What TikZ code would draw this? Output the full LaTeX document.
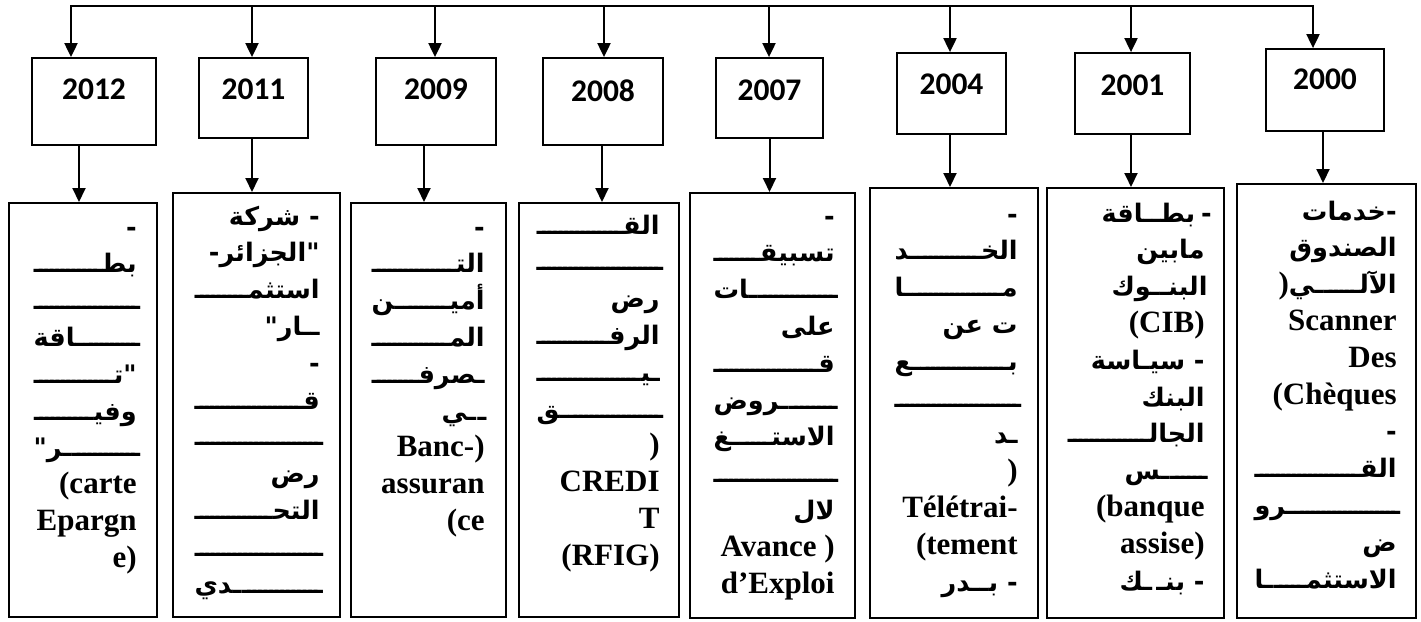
\documentclass[tikz,border=0pt]{standalone}
\usepackage{fontspec}
\setmainfont{Liberation Serif}
\newfontfamily\arfont[Script=Arabic]{DejaVu Sans}
\newfontfamily\yrfont{Carlito}
\usetikzlibrary{arrows.meta,positioning}
\TeXXeTstate=1

% arabic pieces, kashida bar, right flushed rows
\newcommand\arf{\arfont\bfseries\fontsize{25.5pt}{36.8pt}\selectfont}
\newcommand\A[1]{{\arf\beginR #1\endR}}
\newcommand\K{{\arf\setbox0\hbox{ـ}\dimen0=.6\wd0 \xleaders\hbox to\dimen0{ـ\hss}\hfill}}
\newcommand\rowr[1]{\hbox to\hsize{\hss#1}}
\newcommand\roww[2]{\hbox to\hsize{\hss\hbox to#1pt{#2}}}
\newcommand\col[2]{\vtop{\hsize=#1pt\baselineskip=36.8pt\lineskiplimit=-\maxdimen\lineskip=0pt #2}}

\tikzset{
  yrbox/.style={draw,rectangle,line width=1.8pt,inner sep=0pt},
  colbox/.style={draw,rectangle,line width=1.8pt,inner sep=0pt,anchor=north west},
  yrlbl/.style={inner sep=0pt,font=\yrfont\bfseries\fontsize{31.5pt}{31.5pt}\selectfont},
  coltxt/.style={inner sep=0pt,anchor=base east,font=\bfseries\fontsize{31pt}{36.8pt}\selectfont},
  arr/.style={-{Triangle[length=14pt,width=13pt]},line width=2pt},
  busarr/.style={{Triangle[length=14pt,width=13pt]}-{Triangle[length=14pt,width=13pt]},line width=2pt}
}

\begin{document}
\begin{tikzpicture}[x=1pt,y=-1pt]
  \useasboundingbox (0,0) rectangle (1421,621);

  % year boxes
  \node[yrbox,minimum width=124.5pt,minimum height=87pt] (y2012) at (94,101.5) {};
  \node[yrbox,minimum width=109pt,minimum height=80pt] (y2011) at (253.5,98) {};
  \node[yrbox,minimum width=120pt,minimum height=87pt] (y2009) at (436,101.5) {};
  \node[yrbox,minimum width=120pt,minimum height=87pt] (y2008) at (603,101.5) {};
  \node[yrbox,minimum width=107pt,minimum height=80pt] (y2007) at (769.5,98) {};
  \node[yrbox,minimum width=109pt,minimum height=81pt] (y2004) at (951.5,93.5) {};
  \node[yrbox,minimum width=115pt,minimum height=81pt] (y2001) at (1132.5,93.5) {};
  \node[yrbox,minimum width=118pt,minimum height=82pt] (y2000) at (1325,90) {};

  \node[yrlbl,below=22pt of y2012.north] (t2012) {2012};
  \node[yrlbl,below=22pt of y2011.north] (t2011) {2011};
  \node[yrlbl,below=22pt of y2009.north] (t2009) {2009};
  \node[yrlbl,below=22pt of y2008.north] (t2008) {2008};
  \node[yrlbl,below=23pt of y2007.north] (t2007) {2007};
  \node[yrlbl,below=22pt of y2004.north] (t2004) {2004};
  \node[yrlbl,below=23pt of y2001.north] (t2001) {2001};
  \node[yrlbl,below=21pt of y2000.north] (t2000) {2000};

  % lower boxes
  \node[colbox,minimum width=148pt,minimum height=414pt] (b2012) at (8,202) {};
  \node[colbox,minimum width=167pt,minimum height=424pt] (b2011) at (172,192) {};
  \node[colbox,minimum width=155pt,minimum height=414pt] (b2009) at (350,202) {};
  \node[colbox,minimum width=160pt,minimum height=414pt] (b2008) at (518,202) {};
  \node[colbox,minimum width=165pt,minimum height=425pt] (b2007) at (689,192) {};
  \node[colbox,minimum width=168pt,minimum height=430pt] (b2004) at (869,187) {};
  \node[colbox,minimum width=177pt,minimum height=430pt] (b2001) at (1046,187) {};
  \node[colbox,minimum width=179pt,minimum height=434pt] (b2000) at (1236,183) {};

  \node[coltxt] (c2012) at ([xshift=-21pt,yshift=-34pt]b2012.north east) {\col{103}{
    \rowr{\A{-}}
    \rowr{\K\A{بطـ}}
    \rowr{\K}
    \rowr{\A{ـاقة}\K}
    \rowr{\K\A{"تـ}}
    \rowr{\K\A{وفيـ}}
    \rowr{\A{ـر"}\K}
    \rowr{(carte}
    \rowr{Epargn}
    \rowr{e)}}};

  \node[coltxt] (c2011) at ([xshift=-21pt,yshift=-33pt]b2011.north east) {\col{125}{
    \rowr{\A{- شركة}}
    \rowr{\A{"الجزائر-}}
    \rowr{\K\A{استثمـ}}
    \rowr{\A{ــار"}}
    \rowr{\A{-}}
    \rowr{\K\A{قـ}}
    \rowr{\K}
    \rowr{\A{رض}}
    \rowr{\K\A{التحـ}}
    \rowr{\K}
    \rowr{\A{ـدي}\K}}};

  \node[coltxt] (c2009) at ([xshift=-22pt,yshift=-34pt]b2009.north east) {\col{113}{
    \rowr{\A{-}}
    \rowr{\K\A{التـ}}
    \rowr{\A{ـن}\K\A{أميـ}}
    \rowr{\K\A{المـ}}
    \rowr{\K\A{ـصرفـ}}
    \roww{43}{\A{ـي}\K}
    \rowr{Banc-)}
    \rowr{assuran}
    \rowr{(ce}}};

  \node[coltxt] (c2008) at ([xshift=-20pt,yshift=-32pt]b2008.north east) {\col{123}{
    \rowr{\K\A{القـ}}
    \rowr{\K}
    \rowr{\A{رض}}
    \rowr{\K\A{الرفـ}}
    \rowr{\K\A{ـيـ}}
    \rowr{\A{ـق}\K}
    \rowr{)}
    \rowr{CREDI}
    \rowr{T}
    \rowr{(RFIG)}}};

  \node[coltxt] (c2007) at ([xshift=-21pt,yshift=-33pt]b2007.north east) {\col{121}{
    \rowr{\A{-}}
    \rowr{\K\A{تسبيقـ}}
    \rowr{\A{ـات}\K}
    \rowr{\A{على}}
    \rowr{\K\A{قـ}}
    \rowr{\A{ـروض}\K}
    \rowr{\A{ـغ}\K\A{الاستـ}}
    \rowr{\K}
    \rowr{\A{لال}}
    \rowr{Avance )}
    \rowr{d’Exploi}}};

  \node[coltxt] (c2004) at ([xshift=-21pt,yshift=-36pt]b2004.north east) {\col{123}{
    \rowr{\A{-}}
    \rowr{\A{ـد}\K\A{الخـ}}
    \rowr{\A{ـا}\K\A{مـ}}
    \rowr{\A{ت عن}}
    \rowr{\A{ـع}\K\A{بـ}}
    \rowr{\K}
    \rowr{\A{ـد}}
    \rowr{)}
    \rowr{Télétrai-}
    \rowr{(tement}
    \rowr{\A{- بــدر}}}};

  \node[coltxt] (c2001) at ([xshift=-20pt,yshift=-35pt]b2001.north east) {\col{137}{
    \roww{103}{\A{ـاقة}\K\A{- بطـ}}
    \rowr{\A{مابين}}
    \roww{93}{\A{ـوك}\K\A{البنـ}}
    \rowr{(CIB)}
    \rowr{\A{- سيـاسة}}
    \rowr{\A{البنك}}
    \rowr{\K\A{الجالـ}}
    \roww{80}{\A{ـس}\K}
    \rowr{(banque}
    \rowr{assise)}
    \roww{85}{\A{ـك}\K\A{- بنـ}}}};

  \node[coltxt] (c2000) at ([xshift=-20pt,yshift=-37pt]b2000.north east) {\col{142}{
    \rowr{\A{-خدمات}}
    \rowr{\A{الصندوق}}
    \roww{118}{)\A{ـي}\K\A{الآلـ}}
    \rowr{Scanner}
    \rowr{Des}
    \rowr{(Chèques}
    \rowr{\A{-}}
    \rowr{\K\A{القـ}}
    \rowr{\A{ـرو}\K}
    \rowr{\A{ض}}
    \rowr{\A{ـا}\K\A{الاستثمـ}}}};

  % top bus and arrows
  \coordinate (bus12) at (71,6);
  \coordinate (bus11) at (252,6);
  \coordinate (bus09) at (435,6);
  \coordinate (bus08) at (604,6);
  \coordinate (bus07) at (769,6);
  \coordinate (bus04) at (950,6);
  \coordinate (bus01) at (1131,6);
  \coordinate (bus00) at (1313,6);
  \draw[busarr] (bus12 |- y2012.north) -- (bus12) -- (bus00) -- (bus00 |- y2000.north);
  \draw[arr] (bus11) -- (bus11 |- y2011.north);
  \draw[arr] (bus09) -- (bus09 |- y2009.north);
  \draw[arr] (bus08) -- (bus08 |- y2008.north);
  \draw[arr] (bus07) -- (bus07 |- y2007.north);
  \draw[arr] (bus04) -- (bus04 |- y2004.north);
  \draw[arr] (bus01) -- (bus01 |- y2001.north);

  % year to content
  \draw[arr] ([xshift=-15pt]y2012.south) -- ([xshift=-15pt]y2012.south |- b2012.north);
  \draw[arr] ([xshift=-1.5pt]y2011.south) -- ([xshift=-1.5pt]y2011.south |- b2011.north);
  \draw[arr] ([xshift=-12pt]y2009.south) -- ([xshift=-12pt]y2009.south |- b2009.north);
  \draw[arr] ([xshift=-1pt]y2008.south) -- ([xshift=-1pt]y2008.south |- b2008.north);
  \draw[arr] (y2007.south) -- (y2007.south |- b2007.north);
  \draw[arr] ([xshift=-1.5pt]y2004.south) -- ([xshift=-1.5pt]y2004.south |- b2004.north);
  \draw[arr] ([xshift=-1.5pt]y2001.south) -- ([xshift=-1.5pt]y2001.south |- b2001.north);
  \draw[arr] ([xshift=-2pt]y2000.south) -- ([xshift=-2pt]y2000.south |- b2000.north);
\end{tikzpicture}
\end{document}
